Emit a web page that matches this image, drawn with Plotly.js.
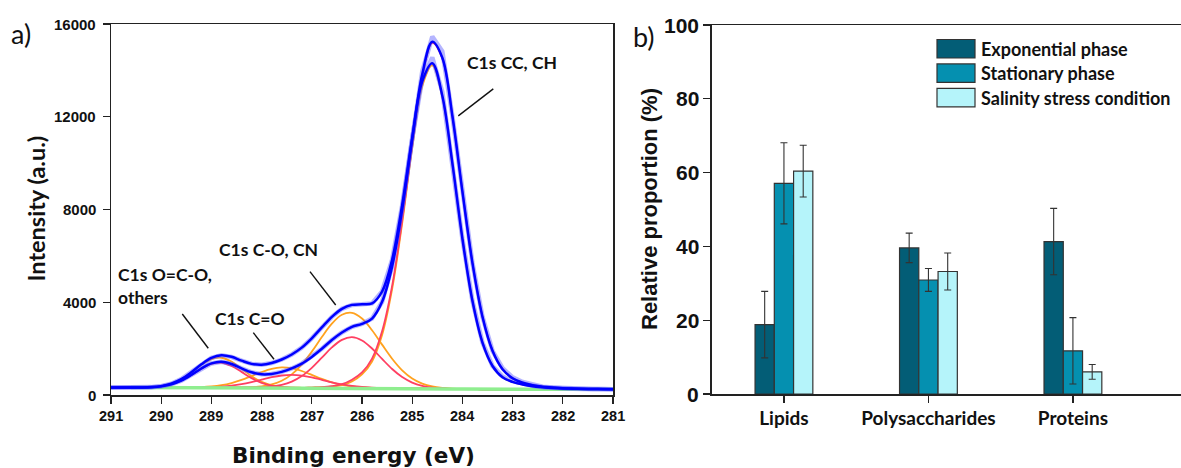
<!DOCTYPE html>
<html><head><meta charset="utf-8">
<script src="https://cdn.plot.ly/plotly-3.0.1.min.js"></script>
<style>html,body{margin:0;padding:0;background:#fff}#chart{width:1181px;height:468px}</style>
</head><body><div id="chart"></div>
<script>
// ---------- Panel a) XPS C1s spectra (values read from the picture) ----------
const energy = [291.0,290.8,290.6,290.4,290.2,290.0,289.8,289.6,289.4,289.2,289.0,288.8,288.6,288.4,288.2,288.0,287.8,287.6,287.4,287.2,287.0,286.8,286.6,286.4,286.2,286.0,285.8,285.6,285.4,285.2,285.0,284.8,284.6,284.4,284.2,284.0,283.8,283.6,283.4,283.2,283.0,282.8,282.6,282.4,282.2,282.0,281.8,281.6,281.4,281.2,281.0];
const background = [320,320,320,319,319,318,318,317,317,316,316,315,314,314,313,312,311,310,309,308,307,306,305,303,302,300,299,297,295,292,288,283,276,269,262,256,252,249,247,246,245,245,245,245,245,245,245,245,245,245,245];
// fitted envelopes
const envelopeA = [320,320,321,325,340,383,488,684,980,1323,1602,1714,1646,1482,1342,1306,1379,1531,1748,2043,2445,2914,3371,3716,3886,3912,3950,4464,5835,8181,11079,13523,14306,12904,9999,6747,4060,2258,1251,762,566,454,378,336,304,284,270,262,256,252,249];
const envelopeB = [320,320,321,324,336,372,458,620,864,1143,1362,1433,1337,1151,978,893,906,996,1145,1351,1643,1992,2372,2696,2937,3069,3297,4017,5537,7999,11039,13831,15237,14543,12041,8783,5697,3376,1908,1114,724,529,425,357,320,294,278,266,258,254,251];
// raw spectra
const rawA = [320,320,321,325,340,383,488,684,980,1323,1602,1714,1646,1482,1342,1306,1379,1531,1748,2043,2445,2914,3371,3716,3886,3912,3950,4464,5835,8181,11079,13620,14560,13080,9999,6747,4060,2258,1251,800,600,480,395,336,304,284,270,262,256,252,249];
const rawB = [320,320,321,324,336,372,458,620,864,1143,1362,1433,1337,1151,978,893,906,996,1145,1351,1643,1992,2372,2696,2937,3069,3297,4017,5537,7999,11039,13950,15460,14820,12041,8783,5697,3376,1908,1160,760,560,445,357,320,294,278,266,258,254,251];
// fitted components, height above background (spectrum A: orange, spectrum B: red)
const compA_OCO = [0,0,1,6,21,65,169,364,655,985,1235,1292,1128,822,499,254,107,38,11,3,0,0,0,0,0,0,0,0,0,0,0,0,0,0,0,0,0,0,0,0,0,0,0,0,0,0,0,0,0,0,0];
const compA_CdO = [0,0,0,0,0,0,0,3,8,22,51,107,202,338,507,680,818,879,846,728,561,386,238,131,65,29,11,4,0,0,0,0,0,0,0,0,0,0,0,0,0,0,0,0,0,0,0,0,0,0,0];
const compA_CO  = [0,0,0,0,0,0,0,0,0,0,0,0,2,8,23,60,143,304,582,1004,1563,2194,2772,3156,3240,2997,2496,1875,1271,774,426,211,94,38,14,4,0,0,0,0,0,0,0,0,0,0,0,0,0,0,0];
const compA_CC  = [0,0,0,0,0,0,0,0,0,0,0,0,0,0,0,0,0,0,0,0,14,28,56,126,279,586,1144,2288,4269,7115,10365,13029,13936,12597,9723,6487,3808,2009,1004,516,321,209,133,91,59,39,25,17,11,7,4];
const compB_OCO = [0,0,1,5,17,54,140,302,544,819,1026,1074,937,683,415,211,89,31,9,2,0,0,0,0,0,0,0,0,0,0,0,0,0,0,0,0,0,0,0,0,0,0,0,0,0,0,0,0,0,0,0];
const compB_CdO = [0,0,0,0,0,0,0,0,3,8,20,44,86,152,244,351,455,531,560,531,455,351,244,152,86,44,20,8,3,0,0,0,0,0,0,0,0,0,0,0,0,0,0,0,0,0,0,0,0,0,0];
const compB_CO  = [0,0,0,0,0,0,0,0,0,0,0,0,0,2,6,19,51,124,267,510,866,1305,1748,2076,2190,2052,1706,1259,826,481,249,114,46,17,5,0,0,0,0,0,0,0,0,0,0,0,0,0,0,0,0];
const compB_CC  = [0,0,0,0,0,0,0,0,0,0,0,0,0,0,0,0,0,0,0,0,15,30,75,165,359,673,1272,2453,4413,7226,10502,13434,14915,14257,11774,8527,5445,3127,1661,868,479,284,180,112,75,49,33,21,13,9,6];
const peakLabels = ['C1s CC, CH','C1s C-O, CN','C1s O=C-O,<br>others','C1s C=O'];
const energyTicks = [291,290,289,288,287,286,285,284,283,282,281];
const intensityTicks = [0,4000,8000,12000,16000];

// ---------- Panel b) relative proportions ----------
const categories = ['Lipids','Polysaccharides','Proteins'];
const seriesNames = ['Exponential phase','Stationary phase','Salinity stress condition'];
const exponential = [18.8, 39.6, 41.3];
const exponentialErr = [9.0, 4.0, 9.0];
const stationary = [57.1, 30.9, 11.7];
const stationaryErr = [11.0, 3.1, 9.0];
const salinity = [60.4, 33.2, 6.0];
const salinityErr = [7.0, 5.0, 2.0];
const proportionTicks = [0,20,40,60,80,100];

// ---------- styling ----------
const W = 1181, H = 468;
const px = x => x / W;
const py = y => 1 - y / H;
const bold = v => '<b>' + v + '</b>';
const barColors = ['#035d76','#0590b0','#b5f4fa'];
const ORANGE = '#ffa21f', RED = '#ff3f62', BLUE = '#0000ff';
const withBg = arr => arr.map((v, i) => v + background[i]);

const traces = [];
const comp = (arr, color) => ({x: energy, y: withBg(arr), type: 'scatter', mode: 'lines',
  line: {color: color, width: 1.8, shape: 'spline', smoothing: 1}, xaxis: 'x', yaxis: 'y', hoverinfo: 'skip'});
traces.push(comp(compA_OCO, ORANGE), comp(compA_CdO, ORANGE), comp(compA_CO, ORANGE), comp(compA_CC, ORANGE));
traces.push(comp(compB_OCO, RED), comp(compB_CdO, RED), comp(compB_CO, RED), comp(compB_CC, RED));
traces.push({x: energy.slice(2), y: background.slice(2), type: 'scatter', mode: 'lines',
  line: {color: '#8fee8f', width: 3.5}, xaxis: 'x', yaxis: 'y'});
[rawA, rawB].forEach(r => traces.push({x: energy, y: r, type: 'scatter', mode: 'lines',
  line: {color: 'rgba(90,90,255,0.45)', width: 4.5, shape: 'linear'}, xaxis: 'x', yaxis: 'y'}));
[envelopeA, envelopeB].forEach(e => traces.push({x: energy, y: e, type: 'scatter', mode: 'lines',
  line: {color: BLUE, width: 2.5, shape: 'spline', smoothing: 1}, xaxis: 'x', yaxis: 'y'}));

const barVals = [exponential, stationary, salinity];
const barErrs = [exponentialErr, stationaryErr, salinityErr];
seriesNames.forEach((n, k) => traces.push({
  type: 'bar', name: n, x: categories, y: barVals[k], xaxis: 'x2', yaxis: 'y2',
  marker: {color: barColors[k], line: {color: '#333', width: 1.2}},
  error_y: {type: 'data', array: barErrs[k], visible: true, color: '#333', thickness: 1.1, width: 3.5}
}));

const arialBold = (s) => ({family: 'Liberation Sans', size: s, color: '#111', weight: 'bold'});
const calBold = (s) => ({family: 'Lato', size: s, color: '#111', weight: 'bold'});

const annotations = [
  {xref:'paper', yref:'paper', x: px(21), y: py(34), xanchor: 'center', yanchor: 'middle', text: 'a)', showarrow: false, font: {family: 'Lato', size: 27, color: '#111'}},
  {xref:'paper', yref:'paper', x: px(644), y: py(37), xanchor: 'center', yanchor: 'middle', text: 'b)', showarrow: false, font: {family: 'Lato', size: 27, color: '#111'}},
  {xref:'paper', yref:'paper', x: px(35), y: py(208.5), xanchor: 'center', yanchor: 'middle', text: bold('Intensity (a.u.)'), textangle: -90, showarrow: false, font: calBold(23.5)},
  {xref:'paper', yref:'paper', x: px(353), y: py(455), xanchor: 'center', yanchor: 'middle', text: bold('Binding energy (eV)'), showarrow: false,
   font: {family: 'DejaVu Sans', size: 21.5, color: '#111', weight: 'bold'}},
  {xref:'paper', yref:'paper', x: px(650), y: py(209), xanchor: 'center', yanchor: 'middle', text: bold('Relative proportion (%)'), textangle: -90, showarrow: false,
   font: arialBold(22)},
  // peak labels (data coordinates of panel a)
  {xref:'x', yref:'y', x: 283.01, y: 14330, xanchor: 'center', text: bold(peakLabels[0]), showarrow: false, font: calBold(17.5)},
  {xref:'x', yref:'y', x: 287.87, y: 6290, xanchor: 'center', text: bold(peakLabels[1]), showarrow: false, font: calBold(17.5)},
  {xref:'x', yref:'y', x: 290.91, y: 4700, text: bold(peakLabels[2]), xanchor: 'left', align: 'left', showarrow: false, font: calBold(17.5)},
  {xref:'x', yref:'y', x: 288.23, y: 3280, xanchor: 'center', text: bold(peakLabels[3]), showarrow: false, font: calBold(17.5)}
];
// numeric tick labels, placed at the tick values of each axis
energyTicks.forEach(v => annotations.push({xref:'x', yref:'paper', x: v, y: py(406), xanchor:'center', yanchor:'top',
  text: bold(v), showarrow:false, font: arialBold(14.5)}));
intensityTicks.forEach(v => annotations.push({xref:'paper', yref:'y', x: px(98), y: v, xanchor:'right', yanchor:'middle',
  text: bold(v), showarrow:false, font: arialBold(15)}));
proportionTicks.forEach(v => annotations.push({xref:'paper', yref:'y2', x: px(701), y: v, xanchor:'right', yanchor:'middle',
  text: bold(v), showarrow:false, font: arialBold(21)}));

const lineStyle = {color: '#111', width: 1.4};
const shapes = [
  {type:'line', xref:'x', yref:'y', x0: 283.385, y0: 13204, x1: 284.082, y1: 12039, line: lineStyle},
  {type:'line', xref:'x', yref:'y', x0: 287.036, y0: 5320, x1: 286.524, y1: 3883, line: lineStyle},
  {type:'line', xref:'x', yref:'y', x0: 289.580, y0: 3495, x1: 289.062, y1: 2015, line: lineStyle},
  {type:'line', xref:'x', yref:'y', x0: 288.165, y0: 2688, x1: 287.753, y1: 1540, line: lineStyle}
];
// custom legend for panel b)
const legTop = 39.5, legStep = 24.4, swH = 18.5;
seriesNames.forEach((n, k) => {
  const t = legTop + k * legStep;
  shapes.push({type:'rect', xref:'paper', yref:'paper', x0: px(937), x1: px(975), y0: py(t + swH), y1: py(t),
    fillcolor: barColors[k], line: {color: '#333', width: 1.2}});
  annotations.push({xref:'paper', yref:'paper', x: px(979), y: py(t + swH / 2), xanchor: 'left', yanchor: 'middle',
    text: bold(n), showarrow: false, font: calBold(18)});
});

const axBase = {showline: true, mirror: true, linecolor: '#222', linewidth: 1.5, ticks: 'outside', ticklen: 7,
  tickwidth: 1.3, tickcolor: '#222', showgrid: false, zeroline: false, fixedrange: true};
const layout = {
  width: W, height: H, margin: {l: 0, r: 0, t: 0, b: 0}, paper_bgcolor: '#fff', plot_bgcolor: '#fff',
  showlegend: false, barmode: 'group', bargap: 0.6, bargroupgap: 0,
  xaxis: Object.assign({}, axBase, {domain: [px(111), px(613)], range: [291, 281], tickvals: energyTicks,
    showticklabels: false, anchor: 'y'}),
  yaxis: Object.assign({}, axBase, {domain: [py(395), py(24)], range: [0, 16000], tickvals: intensityTicks,
    showticklabels: false, anchor: 'x'}),
  xaxis2: Object.assign({}, axBase, {domain: [px(711.7), 1], range: [-0.5, 2.748], type: 'category',
    tickvals: categories, ticktext: categories.map(bold), tickfont: calBold(19), anchor: 'y2'}),
  yaxis2: Object.assign({}, axBase, {domain: [py(394), py(25)], range: [0, 100], tickvals: proportionTicks,
    showticklabels: false, anchor: 'x2'}),
  annotations: annotations, shapes: shapes
};
Plotly.newPlot('chart', traces, layout, {staticPlot: true, displayModeBar: false});
</script></body></html>
